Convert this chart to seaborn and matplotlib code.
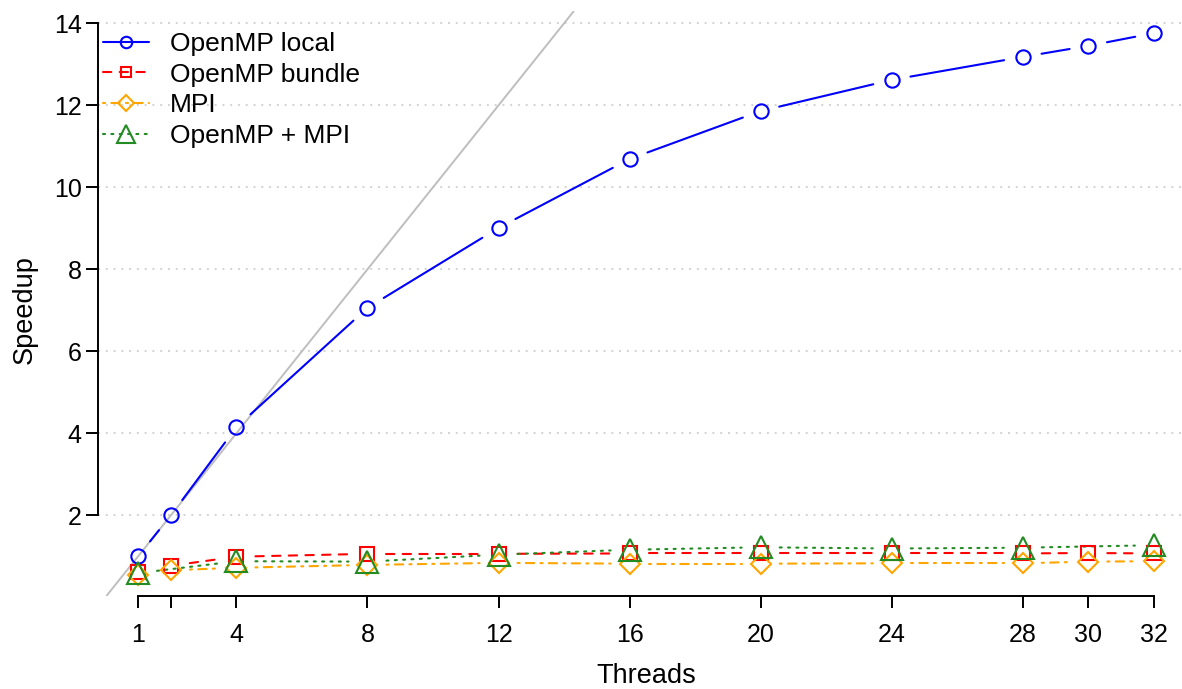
import numpy as np
import matplotlib
matplotlib.use("Agg")
import matplotlib.pyplot as plt
from matplotlib.lines import Line2D
import seaborn as sns

# Measured speedups per thread count
threads = [1, 2, 4, 8, 12, 16, 20, 24, 28, 30, 32]
openmp_local = [1.00, 2.00, 4.15, 7.06, 9.01, 10.69, 11.86, 12.62, 13.18, 13.45, 13.76]
openmp_bundle = [0.62, 0.77, 0.99, 1.06, 1.06, 1.07, 1.07, 1.07, 1.07, 1.08, 1.07]
mpi = [0.55, 0.66, 0.72, 0.79, 0.84, 0.82, 0.82, 0.83, 0.83, 0.87, 0.88]
threads_hybrid = [1, 4, 8, 12, 16, 20, 24, 28, 32]
openmp_mpi = [0.59, 0.88, 0.87, 1.04, 1.16, 1.22, 1.19, 1.21, 1.27]

series_labels = ["OpenMP local", "OpenMP bundle", "MPI", "OpenMP + MPI"]

x_ticks = [1, 2, 4, 8, 12, 16, 20, 24, 28, 30, 32]
x_tick_labels = ["1", "", "4", "8", "12", "16", "20", "24", "28", "30", "32"]
y_ticks = [2, 4, 6, 8, 10, 12, 14]

sns.set_theme(style="white")
plt.rcParams["font.family"] = ["Liberation Sans", "DejaVu Sans"]
plt.rcParams["text.color"] = "black"
plt.rcParams["axes.labelcolor"] = "black"

W, H = 1182, 689
fig = plt.figure(figsize=(W / 100, H / 100), dpi=100)
# plot region in pixels: left 97.5, right 1194.5, top 11.4, bottom 595.6
ax = fig.add_axes([97.5 / W, (H - 595.6) / H, (1194.5 - 97.5) / W, (595.6 - 11.4) / H])
ax.set_xlim(-0.24, 33.24)
ax.set_ylim(0.0415, 14.29)

LW = 1.5
FS = 18
FS_LEG = 19
FS_LAB = 19.5

styles = [
    dict(x=threads, y=openmp_local, color="#0000FF", marker="o", ms=10.3, dashes=None),
    dict(x=threads, y=openmp_bundle, color="#FF0000", marker="s", ms=9.7, dashes=(4, 4)),
    dict(x=threads, y=mpi, color="#FFA500", marker="D", ms=9.7, dashes=(1, 3, 4, 3)),
    dict(x=threads_hybrid, y=openmp_mpi, color="#228B22", marker="^", ms=15.8, dashes=(1, 3)),
]

# horizontal dotted grid
for yv in y_ticks:
    ax.axhline(yv, color="#D3D3D3", lw=1.4, dashes=(1, 3), zorder=0)

# ideal linear speedup
ax.axline((0, 0), slope=1, color="#BEBEBE", lw=1.4, zorder=1)


def line_kw(st):
    kw = dict(color=st["color"], lw=LW, solid_capstyle="round", dash_capstyle="round")
    if st["dashes"] is not None:
        kw["dashes"] = st["dashes"]
    return kw


GAP = 19.0  # pixels left open around each point


def gapped_line(xs, ys, st):
    pts = ax.transData.transform(np.column_stack([xs, ys]))
    inv = ax.transData.inverted()
    for p0, p1 in zip(pts[:-1], pts[1:]):
        d = p1 - p0
        L = np.hypot(d[0], d[1])
        if L <= 2 * GAP:
            continue
        u = d / L
        a = inv.transform(p0 + u * GAP)
        b = inv.transform(p1 - u * GAP)
        ax.plot([a[0], b[0]], [a[1], b[1]], zorder=2, **line_kw(st))


for st in styles:
    gapped_line(st["x"], st["y"], st)

for st in styles:
    sns.lineplot(x=st["x"], y=st["y"], ax=ax, linestyle="", marker=st["marker"],
                 markersize=st["ms"], markerfacecolor="none",
                 markeredgecolor=st["color"], markeredgewidth=LW,
                 color=st["color"], legend=False, zorder=3)

# axes styling
for side in ["top", "right"]:
    ax.spines[side].set_visible(False)
for side in ["left", "bottom"]:
    ax.spines[side].set_color("black")
    ax.spines[side].set_linewidth(1.4)
ax.spines["left"].set_bounds(y_ticks[0], y_ticks[-1])
ax.spines["bottom"].set_bounds(x_ticks[0], x_ticks[-1])

ax.set_xticks(x_ticks)
ax.set_xticklabels(x_tick_labels)
ax.set_yticks(y_ticks)
ax.set_yticklabels([str(v) for v in y_ticks])
ax.tick_params(axis="both", which="major", bottom=True, left=True, direction="out",
               length=8.4, width=1.4, color="black", labelsize=FS, labelcolor="black")
ax.tick_params(axis="x", pad=11.5)
ax.tick_params(axis="y", pad=3.0)
ax.grid(False)

ax.set_xlabel("Threads", fontsize=FS_LAB, color="black")
ax.set_ylabel("Speedup", fontsize=FS_LAB, color="black")
ax.xaxis.set_label_coords(0.5, (595.6 - 663) / (595.6 - 11.4))
ax.yaxis.set_label_coords((38 - 97.5) / (1194.5 - 97.5), (595.6 - 310) / (595.6 - 11.4))

handles = [
    Line2D([], [], marker=st["marker"], markersize=st["ms"] * 0.8, markerfacecolor="none",
           markeredgecolor=st["color"], markeredgewidth=LW, **line_kw(st))
    for st in styles
]
leg = ax.legend(handles, series_labels, loc="upper left", frameon=False,
                bbox_to_anchor=(103 / W, 1 - 32 / H), bbox_transform=fig.transFigure,
                borderpad=0, borderaxespad=0, handlelength=1.75, handletextpad=0.8,
                labelspacing=0.25, fontsize=FS_LEG)
for t in leg.get_texts():
    t.set_color("black")

fig.savefig("out.png", dpi=100)
